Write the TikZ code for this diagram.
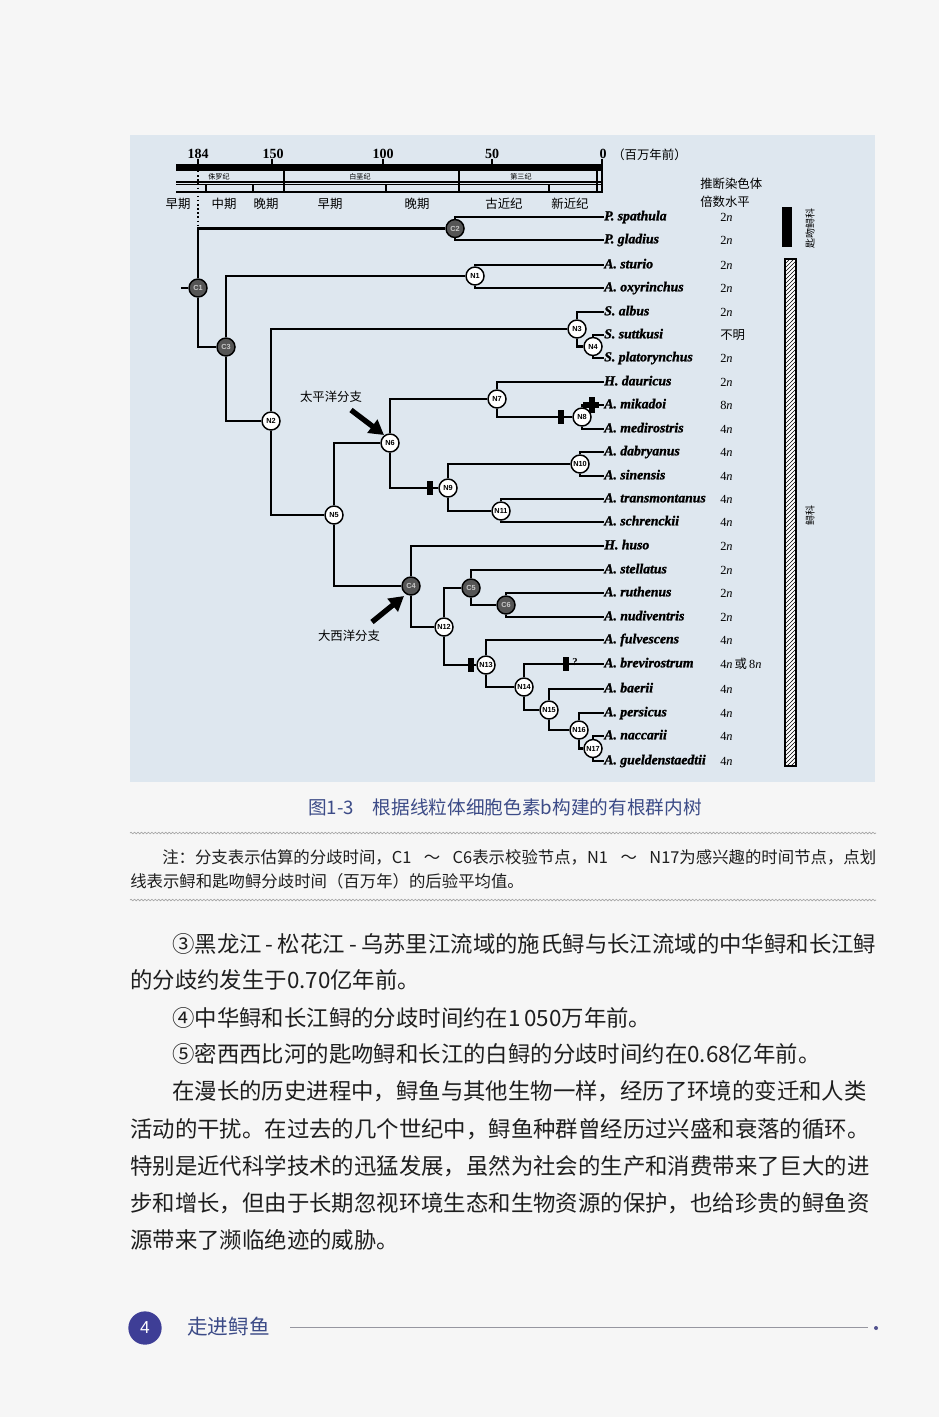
\documentclass[tikz,border=0pt]{standalone}
\usepackage{fontspec}
\setmainfont{Liberation Serif}
\newfontfamily\cjk{Noto Sans CJK SC}
\newfontfamily\lsans{Liberation Sans}
\newfontfamily\spfont{Liberation Serif}[BoldItalicFeatures={FakeBold=1.4}]
\usetikzlibrary{arrows.meta,patterns,decorations.pathmorphing}
\XeTeXlinebreaklocale "zh"
\XeTeXlinebreakskip=0pt plus 3pt
\definecolor{pagebg}{RGB}{246,246,246}
\definecolor{figbg}{RGB}{222,231,239}
\definecolor{cfill}{RGB}{85,85,85}
\definecolor{ctext}{RGB}{200,200,200}
\definecolor{capblue}{RGB}{60,75,135}
\definecolor{bodytext}{RGB}{30,30,30}
\definecolor{footblue}{RGB}{62,62,150}
\definecolor{footgrey}{RGB}{150,150,160}
\newcommand\pn[1]{#1\textit{n}}
\newcommand\sgap{\hskip 3pt plus 1fil\relax}
\begin{document}
\begin{tikzpicture}[x=0.75pt,y=-0.75pt,
  tl/.style={line width=2.2pt},
  cnode/.style={circle,draw=black,line width=1.1pt,fill=cfill,minimum size=13.5pt,inner sep=0pt,text=ctext,font=\lsans\bfseries\fontsize{5.5}{5.5}\selectfont},
  nnode/.style={cnode,fill=white,text=black},
  leaf/.style={anchor=west,inner sep=0pt,text height=7pt,text depth=2pt,font=\spfont\bfseries\itshape\fontsize{10.3}{11}\selectfont},
  ploidy/.style={anchor=west,inner sep=0pt,font=\fontsize{9.3}{10}\selectfont},
  blackbar/.style={rectangle,fill=black,minimum width=4.5pt,minimum height=11pt,inner sep=0pt},
  epoch/.style={inner sep=0pt,font=\cjk\fontsize{9.3}{10}\selectfont},
  period/.style={inner sep=0pt,font=\cjk\fontsize{5.3}{6}\selectfont},
  tnum/.style={inner sep=0pt,font=\bfseries\fontsize{10.5}{11}\selectfont},
  bigarrow/.style={line width=4pt,-{Triangle[length=11pt,width=12pt]}},
  cjklabel/.style={inner sep=0pt,font=\cjk\fontsize{9.3}{10}\selectfont},
  sidelabel/.style={inner sep=0pt,rotate=90,font=\cjk\fontsize{7.5}{8}\selectfont},
  body/.style={anchor=west,inner sep=0pt,text=bodytext,font=\cjk\fontsize{16.8}{20}\selectfont},
  note/.style={anchor=west,inner sep=0pt,text=bodytext,font=\cjk\fontsize{12.3}{14}\selectfont},
  wavy/.style={draw=gray!70,line width=0.5pt,decorate,decoration={snake,amplitude=0.6pt,segment length=2.6pt}}
]
% background
\fill[pagebg] (0,0) rectangle (939,1417);
\path[use as bounding box] (0,0) rectangle (939,1417);
\fill[figbg] (130,135) rectangle (875,782);

% ---------- time scale ----------
\fill (176,164) rectangle (603,171);
\draw[line width=0.8pt] (176,182) -- (603,182);
\draw[line width=0.8pt] (176,184.5) -- (603,184.5);
\draw[line width=1.4pt] (176,192) -- (603,192);
\foreach \x in {284,459,597,602} \draw[line width=1.3pt] (\x,171) -- (\x,192);
\foreach \x in {206,253,386,549} \draw[line width=1.1pt] (\x,184.5) -- (\x,192);
\foreach \x in {198,272,383,492,602} \draw[line width=1.2pt] (\x,159) -- (\x,164);
\node[tnum] (t184) at (198,154) {184};
\node[tnum] (t150) at (273,154) {150};
\node[tnum] (t100) at (383,154) {100};
\node[tnum] (t50) at (492,154) {50};
\node[tnum] (t0) at (603,154) {0};
\node[cjklabel,anchor=west] (myr) at (612,155) {（百万年前）};
\node[period] (pj) at (219,177) {侏罗纪};
\node[period] (pk) at (360,177) {白垩纪};
\node[period] (pt) at (521,177) {第三纪};
\node[epoch] (e1) at (178,204) {早期};
\node[epoch] (e2) at (224,204) {中期};
\node[epoch] (e3) at (266,204) {晚期};
\node[epoch] (e4) at (330,204) {早期};
\node[epoch] (e5) at (417,204) {晚期};
\node[epoch] (e6) at (504,204) {古近纪};
\node[epoch] (e7) at (570,204) {新近纪};
\node[cjklabel,anchor=west] (h1) at (700,184) {推断染色体};
\node[cjklabel,anchor=west] (h2) at (700,202) {倍数水平};

% ---------- leaves ----------
\foreach \i/\y/\nm/\pl in {
 1/217/P. spathula/\pn2,
 2/240/P. gladius/\pn2,
 3/265/A. sturio/\pn2,
 4/288/A. oxyrinchus/\pn2,
 5/312/S. albus/\pn2,
 6/335/S. suttkusi/{\cjk 不明},
 7/358/S. platorynchus/\pn2,
 8/382/H. dauricus/\pn2,
 9/405/A. mikadoi/\pn8,
 10/429/A. medirostris/\pn4,
 11/452/A. dabryanus/\pn4,
 12/476/A. sinensis/\pn4,
 13/499/A. transmontanus/\pn4,
 14/522/A. schrenckii/\pn4,
 15/546/H. huso/\pn2,
 16/570/A. stellatus/\pn2,
 17/593/A. ruthenus/\pn2,
 18/617/A. nudiventris/\pn2,
 19/640/A. fulvescens/\pn4,
 20/664/A. brevirostrum/{\pn4\,{\cjk 或}\,\pn8},
 21/689/A. baerii/\pn4,
 22/713/A. persicus/\pn4,
 23/736/A. naccarii/\pn4,
 24/761/A. gueldenstaedtii/\pn4}
{
 \node[leaf] (l\i) at (604,\y) {\nm};
 \node[ploidy] (p\i) at (720,\y) {\pl};
}

% ---------- internal nodes ----------
\coordinate (stub) at (181,288);
\coordinate (dtop) at (198,171);
\coordinate (dbot) at (198,227);
\node[cnode] (C1) at (198,288) {C1};
\node[cnode] (C2) at (455,228.5) {C2};
\node[cnode] (C3) at (226,347) {C3};
\node[nnode] (N1) at (475,276) {N1};
\node[nnode] (N2) at (271,421) {N2};
\node[nnode] (N3) at (577,329) {N3};
\node[nnode] (N4) at (593,346.5) {N4};
\node[nnode] (N5) at (334,515) {N5};
\node[nnode] (N6) at (390,443) {N6};
\node[nnode] (N7) at (497,399) {N7};
\node[nnode] (N8) at (582,417) {N8};
\node[nnode] (N9) at (448,488) {N9};
\node[nnode] (N10) at (580,464) {N10};
\node[nnode] (N11) at (501,511) {N11};
\node[cnode] (C4) at (411,586) {C4};
\node[nnode] (N12) at (444,627) {N12};
\node[cnode] (C5) at (471,588) {C5};
\node[cnode] (C6) at (506,605) {C6};
\node[nnode] (N13) at (486,665) {N13};
\node[nnode] (N14) at (524,687) {N14};
\node[nnode] (N15) at (549,710) {N15};
\node[nnode] (N16) at (579,730) {N16};
\node[nnode] (N17) at (593,748.5) {N17};

% ---------- edges ----------
\draw[dotted,line width=1.1pt] (dtop) -- (dbot);
\draw[tl] (C1.west) -- (stub);
\draw[tl] (C1) |- (C2);
\draw[tl] (C1) |- (C3);
\draw[tl] (C2) |- (l1.west);
\draw[tl] (C2) |- (l2.west);
\draw[tl] (C3) |- (N1);
\draw[tl] (C3) |- (N2);
\draw[tl] (N1) |- (l3.west);
\draw[tl] (N1) |- (l4.west);
\draw[tl] (N2) |- (N3);
\draw[tl] (N2) |- (N5);
\draw[tl] (N3) |- (l5.west);
\draw[tl] (N3) |- (N4);
\draw[tl] (N4) |- (l6.west);
\draw[tl] (N4) |- (l7.west);
\draw[tl] (N5) |- (N6);
\draw[tl] (N5) |- (C4);
\draw[tl] (N6) |- (N7);
\draw[tl] (N6) |- (N9);
\draw[tl] (N7) |- (l8.west);
\draw[tl] (N7) |- (N8);
\draw[tl] (N8) |- (l9.west);
\draw[tl] (N8) |- (l10.west);
\draw[tl] (N9) |- (N10);
\draw[tl] (N9) |- (N11);
\draw[tl] (N10) |- (l11.west);
\draw[tl] (N10) |- (l12.west);
\draw[tl] (N11) |- (l13.west);
\draw[tl] (N11) |- (l14.west);
\draw[tl] (C4) |- (l15.west);
\draw[tl] (C4) |- (N12);
\draw[tl] (N12) |- (C5);
\draw[tl] (N12) |- (N13);
\draw[tl] (C5) |- (l16.west);
\draw[tl] (C5) |- (C6);
\draw[tl] (C6) |- (l17.west);
\draw[tl] (C6) |- (l18.west);
\draw[tl] (N13) |- (l19.west);
\draw[tl] (N13) |- (N14);
\draw[tl] (N14) |- (l20.west);
\draw[tl] (N14) |- (N15);
\draw[tl] (N15) |- (l21.west);
\draw[tl] (N15) |- (N16);
\draw[tl] (N16) |- (l22.west);
\draw[tl] (N16) |- (N17);
\draw[tl] (N17) |- (l23.west);
\draw[tl] (N17) |- (l24.west);

% ---------- bars on branches ----------
\node[blackbar] (b1) at (561,417) {};
\node[blackbar] (b2) at (430,488) {};
\node[blackbar] (b3) at (471,665) {};
\node[blackbar] (b4) at (566,664) {};
\node[inner sep=0pt,font=\bfseries\fontsize{8}{8}\selectfont] (q) at (575,662) {?};
\node[blackbar,minimum height=12pt] (b5) at (592,405) {};
\node[rectangle,fill=black,minimum width=12pt,minimum height=3.8pt,inner sep=0pt] (b6) at (591,405) {};

% ---------- arrows and branch labels ----------
\node[cjklabel] (pac) at (331,397) {太平洋分支};
\coordinate (pa1) at (351,410);
\coordinate (pa2) at (384,435);
\draw[bigarrow] (pa1) -- (pa2);
\node[cjklabel] (atl) at (349,636) {大西洋分支};
\coordinate (aa1) at (372,622);
\coordinate (aa2) at (404,596);
\draw[bigarrow] (aa1) -- (aa2);

% ---------- family bars ----------
\fill[black] (782,207) rectangle (792,247);
\fill[white] (785,259) rectangle (796,766);
\fill[pattern=north east lines,pattern color=black] (785,259) rectangle (796,766);
\draw[line width=1pt] (785,259) rectangle (796,766);
\node[sidelabel] (f1) at (810,228) {匙吻鲟科};
\node[sidelabel] (f2) at (810,515) {鲟科};

% ---------- caption & note ----------
\node[inner sep=0pt,text=capblue,font=\cjk\fontsize{14}{16}\selectfont] (cap) at (505,807) {图1-3\quad 根据线粒体细胞色素b构建的有根群内树};
\coordinate (w1a) at (130,833); \coordinate (w1b) at (876,833);
\coordinate (w2a) at (130,900); \coordinate (w2b) at (876,900);
\draw[wavy] (w1a) -- (w1b);
\draw[wavy] (w2a) -- (w2b);
\node[note] (n1) at (162,857) {\hbox to 535.5pt{注：分支表示估算的分歧时间，C1\sgap～\sgap C6表示校验节点，N1\sgap～\sgap N17为感兴趣的时间节点，点划}};
\node[note] (n2) at (130,881) {线表示鲟和匙吻鲟分歧时间（百万年）的后验平均值。};

% ---------- body text ----------
\node[body] (t1) at (172,944) {\hbox to 528pt{③黑龙江 - 松花江 - 乌苏里江流域的施氏鲟与长江流域的中华鲟和长江鲟}};
\node[body] (t2) at (130,980) {的分歧约发生于0.70亿年前。};
\node[body] (t3) at (172,1018) {④中华鲟和长江鲟的分歧时间约在1\,050万年前。};
\node[body] (t4) at (172,1054) {⑤密西西比河的匙吻鲟和长江的白鲟的分歧时间约在0.68亿年前。};
\node[body] (t5) at (172,1091) {\hbox to 528pt{在漫长的历史进程中，鲟鱼与其他生物一样，经历了环境的变迁和人类}};
\node[body] (t6) at (130,1129) {\hbox to 559.5pt{活动的干扰。在过去的几个世纪中，鲟鱼种群曾经历过兴盛和衰落的循环。}};
\node[body] (t7) at (130,1166) {\hbox to 559.5pt{特别是近代科学技术的迅猛发展，虽然为社会的生产和消费带来了巨大的进}};
\node[body] (t8) at (130,1203) {\hbox to 559.5pt{步和增长，但由于长期忽视环境生态和生物资源的保护，也给珍贵的鲟鱼资}};
\node[body] (t9) at (130,1240) {源带来了濒临绝迹的威胁。};

% ---------- footer ----------
\node[circle,fill=footblue,minimum size=25pt,inner sep=0pt,text=white,font=\lsans\fontsize{13}{13}\selectfont] (pg) at (145,1328) {4};
\node[anchor=west,inner sep=0pt,text=capblue,font=\cjk\fontsize{15.5}{16}\selectfont] (ft) at (187,1327) {走进鲟鱼};
\coordinate (fl1) at (290,1327);
\coordinate (fl2) at (868,1327);
\draw[footgrey,line width=0.7pt] (fl1) -- (fl2);
\fill[footblue!70!gray] (876,1328) circle (2);
\end{tikzpicture}
\end{document}
